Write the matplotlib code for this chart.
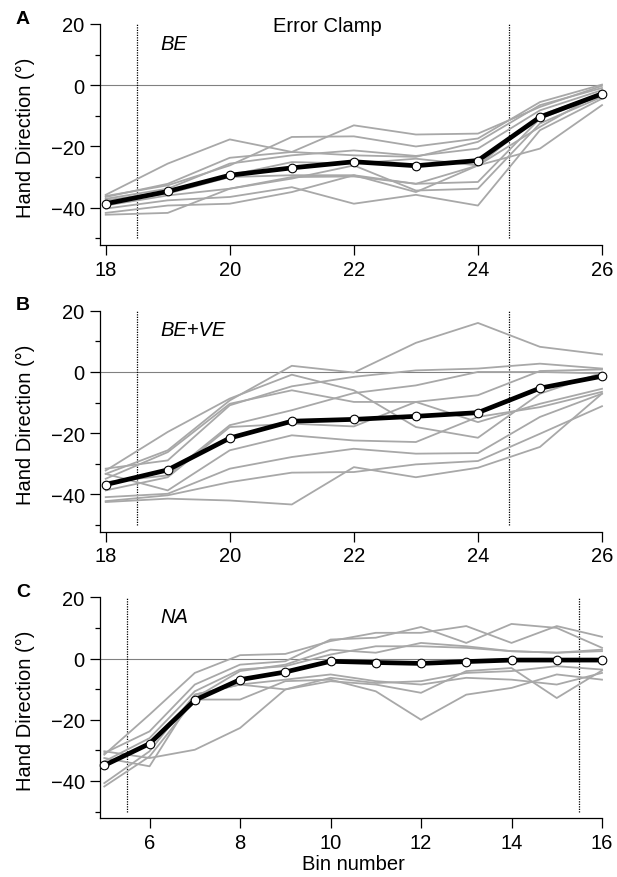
import numpy as np
import matplotlib
matplotlib.use("Agg")
import matplotlib.pyplot as plt

plt.rcParams["font.family"] = ["Liberation Sans", "DejaVu Sans"]

W, H = 617, 878

# ── data ──────────────────────────────────────────────────────
bins_ab = [18, 19, 20, 21, 22, 23, 24, 25, 26]
bins_c  = [5, 6, 7, 8, 9, 10, 11, 12, 13, 14, 15, 16]

mean_a = [-38.7, -34.7, -29.4, -27.0, -25.0, -26.3, -24.6, -10.4, -2.8]
subj_a = [
    [-35.8, -25.6, -17.7, -21.8, -22.9, -23.4, -18.5, -6.5, -0.9],
    [-36.2, -32.7, -26.2, -16.9, -16.7, -20.0, -17.4, -5.5, 0.2],
    [-36.5, -32.2, -23.7, -21.8, -13.1, -16.1, -15.8, -7.1, -0.2],
    [-37.1, -33.8, -25.6, -22.9, -21.3, -23.1, -20.7, -8.2, -1.6],
    [-37.6, -34.7, -29.4, -25.1, -25.6, -24.0, -26.2, -9.8, -2.7],
    [-38.2, -35.4, -30.0, -29.4, -29.4, -32.2, -31.6, -10.9, -3.3],
    [-39.3, -36.0, -33.8, -30.5, -26.2, -34.4, -33.8, -12.5, -3.8],
    [-40.3, -37.6, -36.5, -33.3, -38.7, -35.8, -39.3, -14.7, -4.4],
    [-41.7, -39.3, -38.7, -34.9, -29.4, -34.9, -26.2, -13.6, -2.2],
    [-42.3, -41.7, -33.8, -30.0, -29.8, -32.2, -26.2, -20.7, -6.5],
]

mean_b = [-36.8, -32.0, -21.6, -16.1, -15.5, -14.5, -13.3, -5.3, -1.4]
subj_b = [
    [-33.3, -25.6, -9.3, 2.0, -0.2, 9.5, 16.0, 8.2, 5.7],
    [-32.2, -19.6, -8.7, -0.9, -6.0, -18.0, -21.5, -7.1, -0.3],
    [-31.6, -28.9, -10.9, -4.7, -1.6, 0.5, 1.1, 2.7, 1.1],
    [-34.9, -26.2, -10.4, -6.0, -9.8, -9.8, -7.6, 0.3, 0.8],
    [-36.0, -33.8, -17.4, -12.5, -6.9, -4.4, 0.0, 0.0, -0.5],
    [-38.7, -34.4, -18.0, -16.9, -17.8, -9.8, -16.4, -10.4, -5.5],
    [-33.3, -38.7, -25.6, -20.7, -22.4, -22.9, -14.7, -11.5, -6.5],
    [-40.9, -39.8, -31.6, -27.8, -25.1, -26.7, -26.5, -14.7, -7.1],
    [-42.2, -40.3, -36.0, -32.9, -32.7, -30.2, -29.1, -20.2, -11.2],
    [-42.5, -41.4, -42.0, -43.3, -31.1, -34.4, -31.3, -24.5, -7.1],
]

mean_c = [-34.9, -27.8, -13.6, -6.9, -4.4, -0.9, -1.3, -1.6, -1.0, -0.5, -0.5, -0.5]
subj_c = [
    [-31.4, -18.3, -4.7, 1.1, 1.5, 5.7, 8.4, 8.4, 10.6, 5.1, 10.6, 7.1],
    [-30.9, -23.8, -8.5, -2.0, -0.9, 6.2, 6.8, 10.3, 5.1, 11.3, 10.0, 3.5],
    [-33.6, -26.0, -10.7, -3.6, -2.5, 1.3, 4.0, 4.0, 3.5, 2.4, 1.9, 2.4],
    [-40.7, -30.3, -11.8, -8.5, -6.9, -5.2, -7.4, -8.5, -6.3, -6.9, -8.5, -4.7],
    [-41.8, -32.0, -13.4, -13.4, -7.4, -6.9, -10.7, -20.0, -11.8, -9.6, -5.2, -6.9],
    [-32.5, -35.2, -11.8, -8.5, -10.1, -7.4, -8.5, -11.2, -4.1, -3.1, -12.9, -3.9],
    [-30.3, -32.5, -29.8, -22.7, -10.1, -6.3, -8.0, -7.4, -4.7, -4.1, -2.5, -3.6],
    [-34.7, -28.1, -12.9, -4.1, -2.0, 2.9, 1.9, 5.1, 4.0, 2.4, 1.9, 2.9],
]

panels = [
    ("A", "BE",    bins_ab, mean_a, subj_a, (18.5, 24.5), (17.908, 26)),
    ("B", "BE+VE", bins_ab, mean_b, subj_b, (18.5, 24.5), (17.908, 26)),
    ("C", "NA",    bins_c,  mean_c, subj_c, (5.5, 15.5),  (4.905, 16)),
]
tops = [25, 311.7, 598.3]
LEFT, RIGHT = 100, 602
AX_H = 221
FS = 14.5

fig = plt.figure(figsize=(W / 100, H / 100), dpi=100)
fig.patch.set_facecolor("white")

for (letter, cond, bins, mean, subj, vl, xl), top in zip(panels, tops):
    ax = fig.add_axes([LEFT / W, 1 - (top + AX_H) / H, (RIGHT - LEFT) / W, AX_H / H])

    ax.axhline(0, color="#808080", lw=0.8, zorder=1)
    ax.vlines(vl, -50, 20, colors="black", linestyles=(0, (1, 1)), lw=0.9, zorder=1)

    for s in subj:
        ax.plot(bins, s, color="#a8a8a8", lw=1.3, zorder=2, clip_on=False)
    ax.plot(bins, mean, color="black", lw=3.4, marker="o", ms=6.2,
            mfc="white", mec="black", mew=0.8, zorder=3, clip_on=False)

    ax.set_xlim(*xl)
    ax.set_ylim(-52.19, 20)
    ax.set_yticks([-40, -20, 0, 20])
    ax.set_yticks([-50, -30, -10, 10], minor=True)
    if letter == "C":
        ax.set_xticks([6, 8, 10, 12, 14, 16])
    else:
        ax.set_xticks([18, 20, 22, 24, 26])

    ax.spines[["top", "right"]].set_visible(False)
    for sp in ["left", "bottom"]:
        ax.spines[sp].set_linewidth(0.9)
    ax.tick_params(which="major", direction="out", length=7, width=0.9, labelsize=FS)
    ax.tick_params(which="minor", direction="out", length=3.6, width=0.9)
    ax.tick_params(axis="x", pad=3.5)
    ax.tick_params(axis="y", pad=4)
    ax.patch.set_alpha(0)

    fig.text(23 / W, 1 - (top - 6) / H, letter, fontsize=14, fontweight="bold",
             ha="center", va="center")
    fig.text(160.7 / W, 1 - (top + 19) / H, cond, fontsize=FS, style="italic",
             ha="left", va="center")
    fig.text(25 / W, 1 - (top + 113) / H, "Hand Direction (°)", fontsize=FS,
             rotation=90, ha="center", va="center")

fig.text(327 / W, 1 - 26.7 / H, "Error Clamp", fontsize=FS, ha="center", va="center")
fig.text(353 / W, 1 - 865 / H, "Bin number", fontsize=FS, ha="center", va="center")

fig.savefig("out.png", dpi=100, facecolor="white")
plt.close(fig)
